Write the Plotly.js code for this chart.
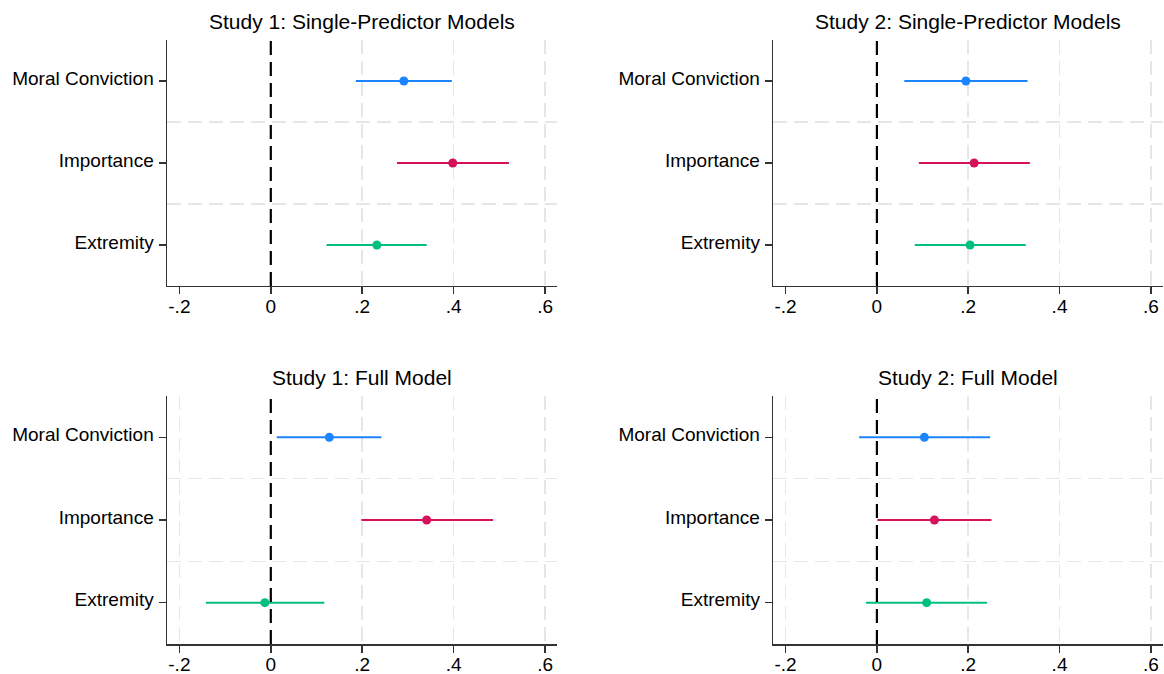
<!DOCTYPE html>
<html>
<head>
<meta charset="utf-8">
<script src="https://cdn.plot.ly/plotly-3.0.1.min.js"></script>
<style>html,body{margin:0;padding:0;background:#fff;}#chart{width:1164px;height:674px;}</style>
</head>
<body>
<div id="chart"></div>
<script>
// ---- data ----
const categories = ["Moral Conviction", "Importance", "Extremity"];
const colors = ["#1a85ff", "#d41159", "#00bf7f"];
const xTickVals = [-0.2, 0, 0.2, 0.4, 0.6];
const xTickText = ["-.2", "0", ".2", ".4", ".6"];

const panelTitles = [
  "Study 1: Single-Predictor Models",
  "Study 2: Single-Predictor Models",
  "Study 1: Full Model",
  "Study 2: Full Model"
];

// Study 1 single-predictor
const s1SingleEst = [0.291, 0.398, 0.232];
const s1SingleLo  = [0.186, 0.276, 0.122];
const s1SingleHi  = [0.396, 0.521, 0.341];
// Study 2 single-predictor
const s2SingleEst = [0.195, 0.213, 0.204];
const s2SingleLo  = [0.060, 0.092, 0.083];
const s2SingleHi  = [0.330, 0.335, 0.326];
// Study 1 full model
const s1FullEst = [0.128, 0.341, -0.013];
const s1FullLo  = [0.013, 0.198, -0.142];
const s1FullHi  = [0.242, 0.486, 0.117];
// Study 2 full model
const s2FullEst = [0.104, 0.126, 0.109];
const s2FullLo  = [-0.039, 0.001, -0.024];
const s2FullHi  = [0.248, 0.251, 0.241];

const panels = [
  {est: s1SingleEst, lo: s1SingleLo, hi: s1SingleHi},
  {est: s2SingleEst, lo: s2SingleLo, hi: s2SingleHi},
  {est: s1FullEst, lo: s1FullLo, hi: s1FullHi},
  {est: s2FullEst, lo: s2FullLo, hi: s2FullHi}
];

// ---- build ----
const n = categories.length;
const yPos = categories.map((c, i) => n - i);
const FONT = "Liberation Sans, Arial, Helvetica, sans-serif";
const axisColor = "#333333";
const gridColor = "#e6e6e6";

const xDomains = [[0.1435, 0.4785], [0.6643, 0.9989]];
const yDomains = [[0.5757, 0.9407], [0.0445, 0.4125]];

const traces = [];
const layout = {
  width: 1164, height: 674,
  margin: {l: 0, r: 0, t: 0, b: 0},
  paper_bgcolor: "#fff", plot_bgcolor: "#fff",
  showlegend: false,
  font: {family: FONT, color: "#000"},
  shapes: [], annotations: []
};

panels.forEach((p, k) => {
  const idx = k + 1;
  const xa = idx === 1 ? "x" : "x" + idx;
  const ya = idx === 1 ? "y" : "y" + idx;
  const col = k % 2, row = Math.floor(k / 2);

  categories.forEach((c, i) => {
    traces.push({
      type: "scatter", mode: "markers",
      x: [p.est[i]], y: [yPos[i]],
      xaxis: xa, yaxis: ya,
      marker: {color: colors[i], size: 9},
      error_x: {
        type: "data", symmetric: false,
        array: [p.hi[i] - p.est[i]],
        arrayminus: [p.est[i] - p.lo[i]],
        color: colors[i], thickness: 2, width: 0
      },
      hoverinfo: "x+y"
    });
  });

  const gridX = row === 0 ? xTickVals.filter(v => v > 0) : xTickVals.filter(v => v !== 0);
  const gridY = yPos.slice(0, n - 1).map(v => v - 0.5);

  layout["xaxis" + (idx === 1 ? "" : idx)] = {
    domain: xDomains[col], anchor: ya,
    range: [-0.227, 0.626],
    tickmode: "array", tickvals: xTickVals, ticktext: xTickText,
    ticks: "outside", ticklen: 7, tickwidth: 1.5, tickcolor: axisColor,
    ticklabelstandoff: -4,
    showline: true, linecolor: axisColor, linewidth: 1.5,
    showgrid: false, zeroline: false,
    tickfont: {family: FONT, size: 19, color: "#000"},
    minor: {tickmode: "array", tickvals: gridX, ticks: "", showgrid: true,
            gridcolor: gridColor, griddash: "14px,7px", gridwidth: 1.5},
    fixedrange: true
  };
  layout["yaxis" + (idx === 1 ? "" : idx)] = {
    domain: yDomains[row], anchor: xa,
    range: [0.5, n + 0.5],
    tickmode: "array", tickvals: yPos, ticktext: categories,
    ticks: "outside", ticklen: 7, tickwidth: 1.5, tickcolor: axisColor,
    ticklabelstandoff: 1, ticklabelshift: -3,
    showline: true, linecolor: axisColor, linewidth: 1.5,
    showgrid: false, zeroline: false,
    tickfont: {family: FONT, size: 19, color: "#000"},
    minor: {tickmode: "array", tickvals: gridY, ticks: "", showgrid: true,
            gridcolor: gridColor, griddash: "14px,7px", gridwidth: 1.5},
    fixedrange: true
  };

  layout.shapes.push({
    type: "line", xref: xa, yref: ya + " domain",
    x0: 0, x1: 0, y0: 0, y1: 1,
    line: {color: "#000", width: 2.2, dash: "14px,7px"},
    layer: "above"
  });

  layout.annotations.push({
    text: panelTitles[k], showarrow: false,
    xref: xa + " domain", yref: ya + " domain",
    x: 0.5, y: 1, xanchor: "center", yanchor: "bottom", yshift: 5,
    font: {family: FONT, size: 21, color: "#000"}
  });
});

Plotly.newPlot("chart", traces, layout, {displayModeBar: false, staticPlot: true});
</script>
</body>
</html>
